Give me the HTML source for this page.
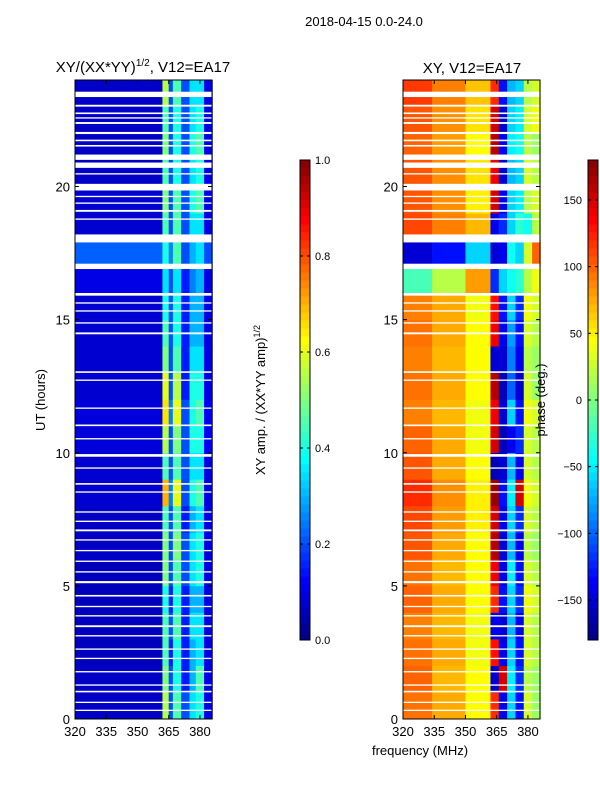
<!DOCTYPE html>
<html><head><meta charset="utf-8">
<style>
body{margin:0;background:#fff;}
svg{display:block;font-family:"Liberation Sans",sans-serif;}
</style></head>
<body>
<svg id="chart" width="600" height="800" viewBox="0 0 600 800">
<text x="364" y="26" font-size="13" text-anchor="middle">2018-04-15 0.0-24.0</text>
<text x="143" y="72" font-size="15" text-anchor="middle">XY/(XX*YY)<tspan font-size="10" dy="-6">1/2</tspan><tspan dy="6">, V12=EA17</tspan></text>
<text x="472" y="73" font-size="15" text-anchor="middle">XY, V12=EA17</text>
<g id="left"></g>
<g id="right"></g>
<g id="cb1"></g>
<g id="cb2"></g>
<text transform="translate(45,400) rotate(-90)" font-size="13" text-anchor="middle">UT (hours)</text>
<text x="420" y="755" font-size="13" text-anchor="middle">frequency (MHz)</text>
<text transform="translate(265,400) rotate(-90)" font-size="13" text-anchor="middle">XY amp. / (XX*YY amp)<tspan font-size="9" dy="-5">1/2</tspan></text>
<text transform="translate(545,400) rotate(-90)" font-size="13" text-anchor="middle">phase (deg.)</text>
</svg>
<script>
// frequency band edges (MHz) and hour rows
const ampBands=[320,362,365,367,371,375,378,382,386];
const phaseBands=[320,334,350,362,366,370,374,378,382,386];
const xTicks=[320,335,350,365,380];
const yTicks=[0,5,10,15,20];
// amplitude matrix: rows hour 0..23, cols ampBands
const amp=[
[0.07,0.55,0.2,0.45,0.2,0.35,0.4,0.1],
[0.07,0.5,0.2,0.4,0.15,0.3,0.45,0.1],
[0.06,0.45,0.15,0.4,0.15,0.3,0.35,0.1],
[0.06,0.45,0.2,0.45,0.15,0.35,0.35,0.1],
[0.06,0.4,0.15,0.4,0.15,0.3,0.3,0.1],
[0.06,0.5,0.2,0.45,0.2,0.35,0.4,0.1],
[0.07,0.5,0.2,0.5,0.2,0.35,0.4,0.1],
[0.07,0.45,0.2,0.45,0.15,0.3,0.35,0.1],
[0.08,0.7,0.25,0.6,0.2,0.4,0.45,0.1],
[0.08,0.45,0.2,0.45,0.2,0.35,0.35,0.1],
[0.09,0.55,0.2,0.5,0.2,0.4,0.4,0.12],
[0.09,0.65,0.25,0.6,0.2,0.4,0.45,0.12],
[0.08,0.6,0.2,0.55,0.15,0.4,0.4,0.1],
[0.08,0.5,0.2,0.45,0.15,0.35,0.35,0.1],
[0.08,0.45,0.2,0.4,0.15,0.3,0.3,0.1],
[0.08,0.4,0.2,0.4,0.15,0.3,0.3,0.1],
[0.1,0.35,0.2,0.35,0.15,0.25,0.3,0.1],
[0.22,0.4,0.25,0.45,0.2,0.3,0.35,0.2],
[0.08,0.45,0.2,0.45,0.2,0.35,0.35,0.1],
[0.08,0.5,0.2,0.45,0.2,0.4,0.45,0.1],
[0.07,0.45,0.2,0.4,0.2,0.35,0.4,0.1],
[0.07,0.5,0.2,0.4,0.2,0.4,0.45,0.1],
[0.07,0.45,0.2,0.4,0.2,0.35,0.4,0.1],
[0.07,0.55,0.2,0.45,0.2,0.35,0.35,0.1]
];
// phase matrix (deg): rows hour 0..23, cols phaseBands
const phase=[
[95,75,45,120,-140,-60,-130,30,10],
[100,70,45,-150,150,-50,-120,20,10],
[95,75,40,130,-140,-60,-130,30,20],
[90,70,40,-140,-150,-70,-140,30,20],
[100,75,45,120,-130,-60,-120,40,30],
[95,70,45,140,-140,-50,-130,30,20],
[105,75,45,160,-150,-70,-140,20,10],
[110,80,50,150,-140,-60,-120,30,20],
[120,85,50,170,-130,-50,150,40,30],
[105,75,45,-160,-150,-70,-140,30,20],
[100,75,40,150,-160,-140,-120,30,20],
[90,70,40,140,-150,-60,-130,40,30],
[95,75,45,160,-160,-100,-150,30,10],
[90,70,45,-150,-150,-90,-140,20,10],
[95,75,45,140,-140,-80,-130,30,20],
[90,75,40,130,-130,-60,-120,40,30],
[-20,20,80,-120,-60,-40,-30,20,40],
[-150,-130,-60,-150,-140,-40,-60,30,100],
[110,90,70,-140,-120,-60,-30,-40,20],
[105,85,50,150,-140,-60,-50,20,30],
[105,85,55,140,-150,-70,-60,30,20],
[100,80,45,160,-140,-50,-40,20,10],
[105,85,55,150,-150,-60,-50,30,40],
[115,90,65,120,-130,-70,-60,20,30]
];
// white (flagged) time ranges in hours
const gaps=[[23.36,23.56],[23.0,23.07],[22.72,22.78],[22.55,22.6],[22.35,22.42],[21.97,22.05],[21.7,21.76],[21.5,21.56],[21.0,21.2],[20.7,20.9],[20.45,20.5],[19.85,20.1],[19.6,19.65],[19.35,19.4],[19.05,19.12],[18.75,18.8],[17.9,18.2],[16.9,17.1],[15.9,16.0],[15.6,15.65],[15.3,15.35],[14.85,14.9],[14.45,14.52],[13.0,13.06],[12.7,12.75],[11.65,11.7],[11.0,11.06],[10.5,10.55],[9.85,9.95],[9.4,9.45],[8.8,8.86],[8.5,8.55],[7.75,7.8],[7.4,7.45],[7.05,7.12],[6.7,6.75],[6.3,6.35],[5.9,5.95],[5.5,5.55],[5.1,5.18],[4.6,4.66],[4.2,4.25],[3.85,3.9],[3.45,3.52],[3.1,3.15],[2.6,2.65],[2.25,2.3],[1.75,1.8],[1.25,1.3],[1.0,1.06],[0.6,0.65],[0.3,0.35]];
const ampTicks=[0,0.2,0.4,0.6,0.8,1.0];
const phaseTicks=[-150,-100,-50,0,50,100,150];

const NS='http://www.w3.org/2000/svg';
function jet(v){v=Math.max(0,Math.min(1,v));
 const r=Math.max(0,Math.min(1,1.5-Math.abs(4*v-3)));
 const g=Math.max(0,Math.min(1,1.5-Math.abs(4*v-2)));
 const b=Math.max(0,Math.min(1,1.5-Math.abs(4*v-1)));
 return `rgb(${Math.round(r*255)},${Math.round(g*255)},${Math.round(b*255)})`;}
function mk(tag,attrs,parent){const e=document.createElementNS(NS,tag);for(const k in attrs)e.setAttribute(k,attrs[k]);parent.appendChild(e);return e;}
const T=80,B=719;
const yScale=h=>B-(h/24)*(B-T);
function panel(gid,x0,x1,bands,mat,norm,label){
 const g=document.getElementById(gid);
 const xs=f=>x0+(f-320)/(385.8-320)*(x1-x0);
 mat.forEach((row,i)=>{row.forEach((v,j)=>{
  const r=mk('rect',{x:xs(bands[j]),y:yScale(i+1),width:xs(bands[j+1])-xs(bands[j])+0.3,height:yScale(i)-yScale(i+1)+0.3,fill:jet(norm(v))},g);
  
  
 });});
 gaps.forEach(gp=>{
  const r=mk('rect',{x:x0,y:yScale(gp[1]),width:x1-x0,height:yScale(gp[0])-yScale(gp[1]),fill:'#fff'},g);
  
  
 });
 const fr=mk('rect',{x:x0,y:T,width:x1-x0,height:B-T,fill:'none',stroke:'#000','stroke-width':1},g);
 
 
 xTicks.forEach(t=>{const x=xs(t);
  mk('line',{x1:x,x2:x,y1:B,y2:B-4,stroke:'#000'},g);mk('line',{x1:x,x2:x,y1:T,y2:T+4,stroke:'#000'},g);
  const tx=mk('text',{x:x,y:B+17,'font-size':13,'text-anchor':'middle'},g);tx.textContent=t;
  
  });
 yTicks.forEach(t=>{const y=yScale(t);
  mk('line',{x1:x0,x2:x0+4,y1:y,y2:y,stroke:'#000'},g);mk('line',{x1:x1,x2:x1-4,y1:y,y2:y,stroke:'#000'},g);
  const tx=mk('text',{x:x0-5,y:y+5,'font-size':13,'text-anchor':'end'},g);tx.textContent=t;
  
  });
}
panel('left',75,212,ampBands,amp,v=>v,'amplitude');
panel('right',403,540,phaseBands,phase,v=>(v+180)/360,'phase');
function colorbar(gid,x,lo,hi,ticks,labelRight){
 const g=document.getElementById(gid);const top=160,bot=640,n=60;
 for(let i=0;i<n;i++){mk('rect',{x:x,y:bot-(i+1)*(bot-top)/n,width:10,height:(bot-top)/n+0.5,fill:jet((i+0.5)/n)},g);}
 mk('rect',{x:x,y:top,width:10,height:bot-top,fill:'none',stroke:'#000'},g);
 ticks.forEach(t=>{const y=bot-(t-lo)/(hi-lo)*(bot-top);
  mk('line',{x1:x,x2:x+3,y1:y,y2:y,stroke:'#000'},g);mk('line',{x1:x+10,x2:x+7,y1:y,y2:y,stroke:'#000'},g);
  const tx=mk('text',labelRight?{x:x+15,y:y+4,'font-size':11}:{x:x-6,y:y+4,'font-size':11,'text-anchor':'end'},g);
  tx.textContent=(lo===0?t.toFixed(1):(t<0?'\u2212'+(-t):t));
  
  });
}
colorbar('cb1',300,0,1,ampTicks,true);
colorbar('cb2',588,-180,180,phaseTicks,false);
</script>
</body></html>
